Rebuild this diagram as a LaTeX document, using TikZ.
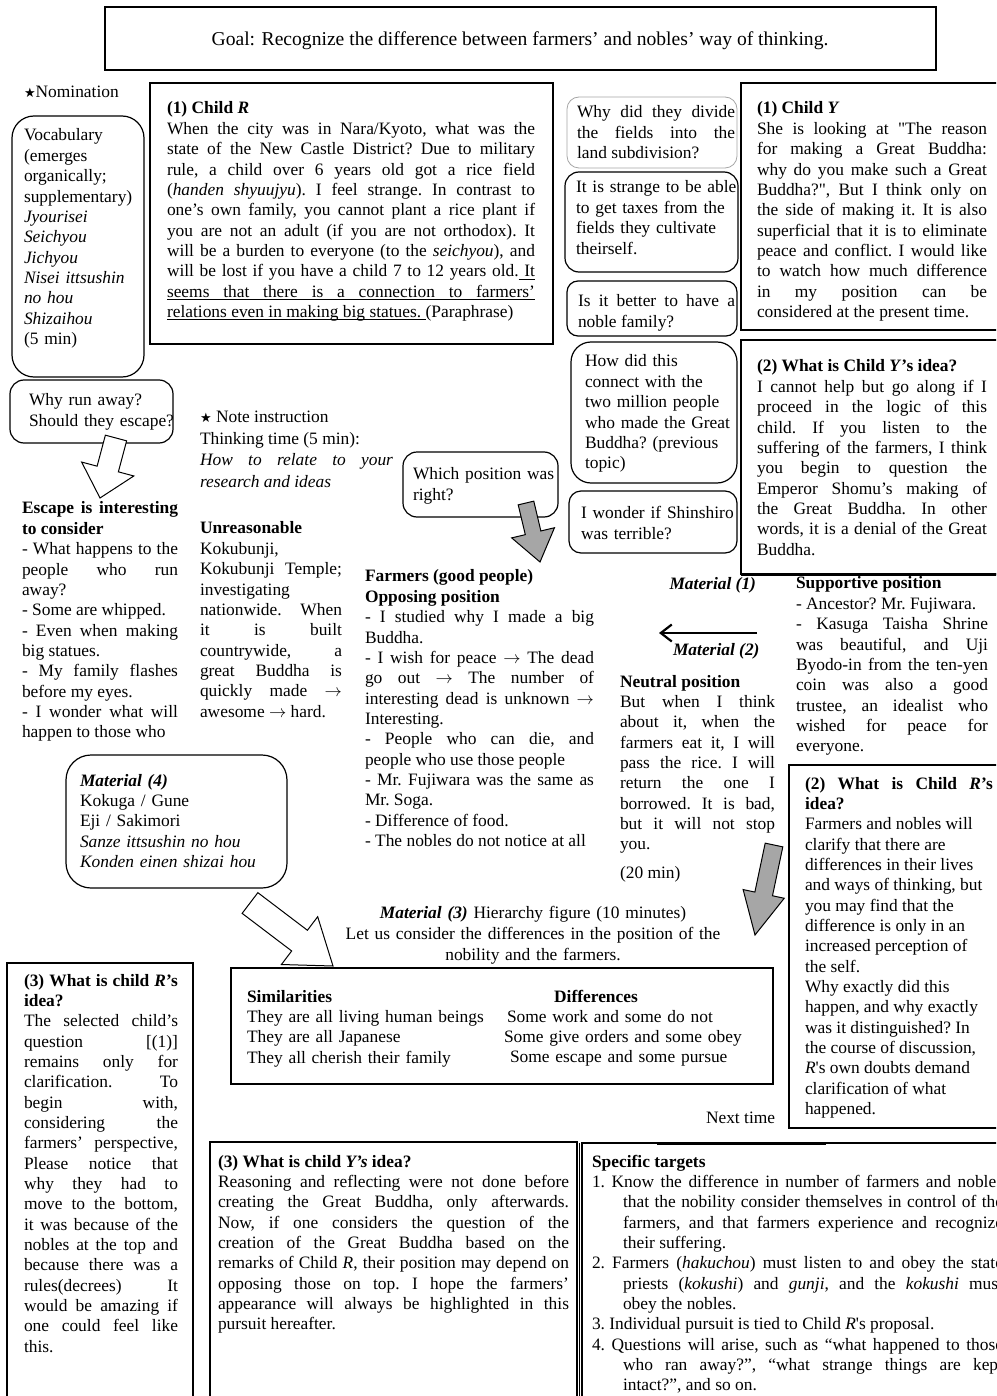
\documentclass[tikz,border=0pt]{standalone}
\usepackage{fontspec}
\setmainfont{Liberation Serif}
\newfontfamily\rawserif{Liberation Serif}[Ligatures=TeXOff]
\newfontfamily\symfont{DejaVu Sans}
\usetikzlibrary{calc,arrows.meta}
\definecolor{arrowgray}{RGB}{166,166,166}
\newlength\ullen
\newcommand\bodyfont{\fontsize{17.4}{20.35}\selectfont\frenchspacing\parindent=0pt\parskip=0pt\tolerance=10000\hyphenpenalty=10000\exhyphenpenalty=10000\relax}
\newcommand\notefont{\fontsize{17.4}{21.5}\selectfont\frenchspacing\parindent=0pt\parskip=0pt\tolerance=10000\hyphenpenalty=10000\relax}
\newcommand\LB{\linebreak}
\newcommand\itm{\par\hangindent=31pt\hangafter=1\relax}
\newcommand\myarr{$\rightarrow$}
\newcommand\mystar{{\symfont\fontsize{13}{13}\selectfont ★}}
\newcommand\sq{{\rawserif'}}
\newcommand\dq{{\rawserif"}}
\newcommand\ulrule[1]{\rule[-2.8pt]{#1}{0.8pt}}
\newcommand\ulspace{\leaders\hrule height -2pt depth 2.8pt\hskip\fontdimen2\font plus\fontdimen3\font minus\fontdimen4\font\relax}
% #1 style, #2 tail, #3 tip, #4 stem half width, #5 head half width, #6 head length
\newcommand\blockarrow[6]{%
  \coordinate (bah) at ($(#3)!#6!(#2)$);
  \draw[#1] ($(#2)!#4!90:(#3)$) -- ($(bah)!#4!-90:(#2)$) -- ($(bah)!#5!-90:(#2)$) -- (#3)
    -- ($(bah)!#5!90:(#2)$) -- ($(bah)!#4!90:(#2)$) -- ($(#2)!#4!-90:(#3)$) -- cycle;}
\tikzset{
  txt/.style={anchor=north west, inner sep=0pt, outer sep=0pt, align=justify, font=\bodyfont},
  ltxt/.style={anchor=north west, inner sep=0pt, outer sep=0pt, align=left, font=\bodyfont},
  lbl/.style={inner sep=0pt, outer sep=0pt, font=\bodyfont},
  boxline/.style={draw=black, line width=1.2pt},
  rbox/.style={draw=black, line width=1.2pt, rounded corners=14pt},
  whitearrow/.style={draw=black, line width=1pt, fill=white, line join=miter},
  grayarrow/.style={draw=black, line width=1pt, fill=arrowgray, line join=miter},
  matarrow/.style={draw=black, line width=2.2pt, -{Straight Barb[length=11pt,width=17pt]}},
}
\begin{document}
\begin{tikzpicture}[x=1pt,y=-1pt]
\useasboundingbox (0,0) rectangle (996,1396);
\clip (0,0) rectangle (996,1396);
\fill[white] (0,0) rectangle (996,1396);

% ---------- boxes ----------
\draw[boxline] (105,7) rectangle (936,70);
\draw[rbox, rounded corners=22pt] (12,116) rectangle (144,377);
\draw[boxline] (150,83) rectangle (553,344);
\draw[draw=gray!70, line width=0.8pt, rounded corners=12pt] (567,97) rectangle (737,168);
\draw[rbox] (565,172) rectangle (738,272);
\draw[rbox, rounded corners=11pt] (567,281) rectangle (737,336);
\draw[rbox, rounded corners=20pt] (571,342) rectangle (737,483);
\draw[rbox, rounded corners=12pt] (569,491) rectangle (737,553);
\draw[boxline] (741,83) rectangle (1002,330);
\draw[boxline] (741,340) rectangle (1002,574);
\draw[black, line width=3pt] (741,574) -- (1002,574);
\draw[rbox] (10,380) rectangle (173,443);
\draw[rbox] (403,452) rectangle (558,517);
\draw[rbox, rounded corners=25pt] (66,755) rectangle (287,888);
\draw[boxline] (789,765) rectangle (1002,1128);
\draw[boxline] (231,968) rectangle (773,1084);
\draw[boxline] (7,963) rectangle (193,1402);
\draw[boxline] (210,1142) rectangle (577,1402);
\draw[boxline] (582,1143) rectangle (1002,1402);
\draw[black, line width=1pt] (579,1143) -- (579,1402);
\draw[black, line width=3pt] (657,1143) -- (826,1143);

% ---------- texts ----------
\node[lbl, anchor=base, font=\fontsize{19.6}{22}\selectfont] (goal) at (520,46)
  {Goal: Recognize the difference between farmers' and nobles' way of thinking.};

\node[lbl, anchor=base west] (nom) at (24,98) {\mystar Nomination};

\node[ltxt, text width=128pt] (vocab) at (24,126.75) {\strut Vocabulary\\(emerges\\organically;\\supplementary)\\\textit{Jyourisei}\\\textit{Seichyou}\\\textit{Jichyou}\\\textit{Nisei ittsushin}\\\textit{no hou}\\\textit{Shizaihou}\\(5 min)};

\node[txt, text width=368pt] (childR) at (167,99.75) {\strut\textbf{(1) Child \textit{R}}\par
When the city was in Nara/Kyoto, what was the \LB
state of the New Castle District? Due to military \LB
rule, a child over 6 years old got a rice field \LB
(\textit{handen shyuujyu}). I feel strange. In contrast to \LB
one's own family, you cannot plant a rice plant if \LB
you are not an adult (if you are not orthodox). It \LB
will be a burden to everyone (to the \textit{seichyou}), and \LB
will be lost if you have a child 7 to 12 years old.\ulspace\settowidth\ullen{It}\rlap{\ulrule{\ullen}}It\LB
\rlap{\ulrule{368pt}}seems that there is a connection to farmers'\LB
\settowidth\ullen{relations even in making big statues.\ }\rlap{\ulrule{\ullen}}relations even in making big statues. (Paraphrase)\par};

\node[txt, text width=158pt] (q1) at (577,103.75) {\strut Why did they divide \LB the fields into the \LB land subdivision?\par};
\node[ltxt, text width=162pt] (q2) at (576,178.75) {\strut It is strange to be able\\to get taxes from the\\fields they cultivate\\theirself.};
\node[txt, text width=157pt] (q3) at (578,292.75) {\strut Is it better to have a \LB noble family?\par};
\node[ltxt, text width=152pt] (q4) at (585,352.75) {\strut How did this\\connect with the\\two million people\\who made the Great\\Buddha? (previous\\topic)};
\node[ltxt, text width=156pt] (q5) at (581,504.75) {\strut I wonder if Shinshiro\\was terrible?};

\node[txt, text width=230pt] (childY) at (757,99.75) {\strut\textbf{(1) Child \textit{Y}}\par
She is looking at \dq The reason \LB
for making a Great Buddha: \LB
why do you make such a Great \LB
Buddha?\dq, But I think only on \LB
the side of making it. It is also \LB
superficial that it is to eliminate \LB
peace and conflict. I would like \LB
to watch how much difference \LB
in my position can be \LB
considered at the present time.\par};

\node[txt, text width=230pt] (ideaY) at (757,357.75) {\strut\textbf{(2) What is Child \textit{Y}'s idea?}\par
I cannot help but go along if I \LB
proceed in the logic of this \LB
child. If you listen to the \LB
suffering of the farmers, I think \LB
you begin to question the \LB
Emperor Shomu's making of \LB
the Great Buddha. In other \LB
words, it is a denial of the Great \LB
Buddha.\par};

\node[ltxt, text width=150pt] (runaway) at (29,391.75) {\strut Why run away?\\Should they escape?};

\node[txt, text width=193pt, font=\notefont] (note) at (200,407.5)
  {\strut\mystar\ Note instruction\\Thinking time (5 min):\\\textit{How to relate to your \LB research and ideas}\par};

\node[ltxt, text width=150pt] (which) at (413,465.75) {\strut Which position was\\right?};

\node[txt, text width=156pt] (escape) at (22,499.75) {\strut\textbf{Escape is interesting \LB to consider}\par
- What happens to the \LB people who run \LB away?\par
- Some are whipped.\par
- Even when making \LB big statues.\par
- My family flashes \LB before my eyes.\par
- I wonder what will \LB happen to those who\par};

\node[txt, text width=142pt] (unreas) at (200,519.75) {\strut\textbf{Unreasonable}\\Kokubunji,\\Kokubunji Temple; \LB investigating\\nationwide. When \LB it is built \LB countrywide, a \LB great Buddha is \LB quickly made \myarr{} \LB awesome \myarr{} hard.\par};

\node[txt, text width=229pt] (farmers) at (365,567.75) {\strut\textbf{Farmers (good people)}\\\textbf{Opposing position}\par
- I studied why I made a big \LB Buddha.\par
- I wish for peace \myarr{} The dead \LB go out \myarr{} The number of \LB interesting dead is unknown \myarr{} \LB Interesting.\par
- People who can die, and \LB people who use those people\par
- Mr. Fujiwara was the same as \LB Mr. Soga.\par
- Difference of food.\par
- The nobles do not notice at all\par};

\node[lbl, anchor=base east] (mat1) at (756,589) {\textbf{\textit{Material (1)}}};
\node[lbl, anchor=base west] (mat2) at (673,655) {\textbf{\textit{Material (2)}}};
\coordinate (matS) at (757,633);
\coordinate (matE) at (659,633);
\draw[matarrow] (matS) -- (matE);

\node[txt, text width=155pt] (neutral) at (620,672.75) {\strut\textbf{Neutral position}\par
But when I think \LB about it, when the \LB farmers eat it, I will \LB pass the rice. I will \LB return the one I \LB borrowed. It is bad, \LB but it will not stop \LB you.\par};
\node[lbl, anchor=base west] (twenty) at (620,878) {(20 min)};

\node[txt, text width=192pt] (support) at (796,574.75) {\strut\textbf{Supportive position}\par
- Ancestor? Mr. Fujiwara.\par
- Kasuga Taisha Shrine \LB was beautiful, and Uji \LB Byodo-in from the ten-yen \LB coin was also a good \LB trustee, an idealist who \LB wished for peace for \LB everyone.\par};

\node[txt, text width=188pt] (ideaR) at (805,774.75) {\strut\textbf{(2) What is Child \textit{R}'s \LB idea?}\par
Farmers and nobles will\\clarify that there are\\differences in their lives\\and ways of thinking, but\\you may find that the\\difference is only in an\\increased perception of\\the self.\\Why exactly did this\\happen, and why exactly\\was it distinguished? In\\the course of discussion,\\\textit{R}\sq s own doubts demand\\clarification of what\\happened.\par};

\node[ltxt, text width=210pt] (mat4) at (80,771.75) {\strut\textbf{\textit{Material (4)}}\\Kokuga / Gune\\Eji / Sakimori\\\textit{Sanze ittsushin no hou}\\\textit{Konden einen shizai hou}};

\node[anchor=north, inner sep=0pt, align=center, text width=430pt, font=\fontsize{17.4}{21}\selectfont] (mat3) at (533,903.5)
  {\strut\textbf{\textit{Material (3)}} Hierarchy figure (10 minutes)\\Let us consider the differences in the position of the\\nobility and the farmers.};

\node[ltxt, text width=255pt] (simil) at (247,987.75) {\strut\textbf{Similarities}\\They are all living human beings\\They are all Japanese\\They all cherish their family};
\node[lbl, anchor=base] (diffh) at (596,1002) {\textbf{Differences}};
\node[ltxt, text width=260pt] (diffs) at (504,1007.75) {\strut\hspace*{3pt}Some work and some do not\\Some give orders and some obey\\\hspace*{6pt}Some escape and some pursue};

\node[lbl, anchor=base west] (next) at (706,1123) {Next time};

\node[txt, text width=154pt] (ideaR3) at (24,971.75) {\strut\textbf{(3) What is child \textit{R}'s \LB idea?}\par
The selected child's \LB question [(1)] \LB remains only for \LB clarification. To \LB begin with, \LB considering the \LB farmers' perspective, \LB Please notice that \LB why they had to \LB move to the bottom, \LB it was because of the \LB nobles at the top and \LB because there was a \LB rules(decrees) It \LB would be amazing if \LB one could feel like \LB this.\par};

\node[txt, text width=351pt] (ideaY3) at (218,1152.75) {\strut\textbf{(3) What is child \textit{Y's} idea?}\par
Reasoning and reflecting were not done before \LB
creating the Great Buddha, only afterwards. \LB
Now, if one considers the question of the \LB
creation of the Great Buddha based on the \LB
remarks of Child \textit{R}, their position may depend on \LB
opposing those on top. I hope the farmers' \LB
appearance will always be highlighted in this \LB
pursuit hereafter.\par};

\node[txt, text width=411pt] (targets) at (592,1152.75) {\strut\textbf{Specific targets}
\itm 1. Know the difference in number of farmers and nobles \LB that the nobility consider themselves in control of the \LB farmers, and that farmers experience and recognize \LB their suffering.
\itm 2. Farmers (\textit{hakuchou}) must listen to and obey the state \LB priests (\textit{kokushi}) and \textit{gunji}, and the \textit{kokushi} must \LB obey the nobles.
\itm 3. Individual pursuit is tied to Child \textit{R}\sq s proposal.
\itm 4. Questions will arise, such as ``what happened to those \LB who ran away?'', ``what strange things are kept \LB intact?'', and so on.\par};

% ---------- block arrows ----------
\coordinate (a1s) at (116,438);
\coordinate (a1e) at (100,498);
\blockarrow{whitearrow}{a1s}{a1e}{11pt}{27pt}{30pt}

\coordinate (a2s) at (526,503);
\coordinate (a2e) at (540,562);
\blockarrow{grayarrow}{a2s}{a2e}{8pt}{22pt}{30pt}

\coordinate (a3s) at (250,903);
\coordinate (a3e) at (333,966);
\blockarrow{whitearrow}{a3s}{a3e}{13pt}{30pt}{42pt}

\coordinate (a4s) at (774,845);
\coordinate (a4e) at (755,935);
\blockarrow{grayarrow}{a4s}{a4e}{9pt}{21pt}{42pt}
\end{tikzpicture}
\end{document}
